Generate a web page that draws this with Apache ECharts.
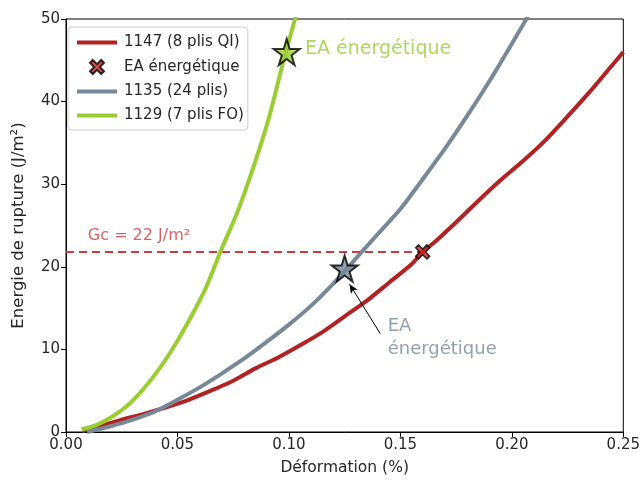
<!DOCTYPE html>
<html><head><meta charset="utf-8">
<script src="https://cdn.jsdelivr.net/npm/echarts@6/dist/echarts.min.js"></script>
<style>html,body{margin:0;padding:0;background:#fff}#c{width:643px;height:481px}</style>
</head><body><div id="c"></div>
<script>
// ---- data ----
const redX = [0.0075,0.015,0.025,0.035,0.045,0.055,0.065,0.075,0.085,0.095,0.105,0.115,0.125,0.135,0.145,0.155,0.16,0.165,0.175,0.185,0.195,0.205,0.215,0.225,0.235,0.245,0.25];
const redY = [0.1,0.7,1.5,2.2,3.0,3.9,5.0,6.2,7.7,9.0,10.5,12.1,14.0,15.9,18.1,20.3,21.8,22.9,25.4,28.0,30.5,32.8,35.3,38.2,41.2,44.4,46.0];
const greyX = [0.0095,0.02,0.03,0.04,0.05,0.06,0.07,0.08,0.09,0.10,0.11,0.12,0.13,0.14,0.15,0.16,0.17,0.18,0.19,0.20,0.21];
const greyY = [0.0,0.7,1.5,2.5,3.9,5.4,7.1,8.9,10.9,13.0,15.3,18.0,21.0,24.0,27.0,30.6,34.3,38.3,42.5,47.0,51.6];
const greenX = [0.007,0.014,0.021,0.028,0.035,0.042,0.049,0.056,0.063,0.070,0.077,0.084,0.091,0.098,0.104];
const greenY = [0.3,0.9,1.9,3.3,5.3,7.7,10.6,13.9,17.6,22.3,26.7,32.0,38.0,45.4,51.2];
const eaRed = [0.160, 21.8];
const eaGrey = [0.125, 19.8];
const eaGreen = [0.099, 46.0];
const gcValue = 21.8;
const seriesNames = ['1147 (8 plis QI)', 'EA énergétique', '1135 (24 plis)', '1129 (7 plis FO)'];
const xTicks = [0, 0.05, 0.10, 0.15, 0.20, 0.25];
const yTicks = [0, 10, 20, 30, 40, 50];
const gcText = 'Gc = 22 J/m²';
const eaText = 'EA énergétique';
const eaTextGrey = 'EA\nénergétique';
const gcTextPos = [0.0098, 23.7];
const greenTextPos = [0.1072, 46.3];
const greyTextPos = [0.1443, 11.4];
const arrowFrom = [0.141, 11.9];
const arrowTo = [0.1272, 17.9];

const zip = (xs, ys) => xs.map((x, i) => [x, ys[i]]);
const FONT = 'DejaVu Sans';
const RED = '#b22222', GREY = '#778899', GREEN = '#9acd32', GCRED = '#cf3a3a';
const starPath = 'path://M50,0 L61,35 L98,35 L68,57 L79,91 L50,70 L21,91 L32,57 L2,35 L39,35 Z';
const xPath = 'path://M20,0 L50,30 L80,0 L100,20 L70,50 L100,80 L80,100 L50,70 L20,100 L0,80 L30,50 L0,20 Z';
const linePath = 'path://M0,0 L40,0 L40,4 L0,4 Z';

const chart = echarts.init(document.getElementById('c'), null, {renderer: 'canvas'});
chart.setOption({
  animation: false,
  backgroundColor: '#fff',
  textStyle: {fontFamily: FONT},
  grid: {left: 66, right: 15, top: 19, bottom: 45, show: true, borderColor: '#000', borderWidth: 1, backgroundColor: 'transparent'},
  xAxis: {
    type: 'value', min: xTicks[0], max: xTicks[xTicks.length-1], interval: 0.05,
    name: 'Déformation (%)', nameLocation: 'middle', nameGap: 28,
    nameTextStyle: {fontSize: 15.5, color: '#262626', fontFamily: FONT},
    axisLine: {show: true, onZero: false, lineStyle: {color: '#000', width: 1}},
    axisTick: {show: true, length: 5, lineStyle: {color: '#000'}},
    axisLabel: {fontSize: 15, color: '#262626', margin: 6, formatter: v => v.toFixed(2), fontFamily: FONT},
    splitLine: {show: false}
  },
  yAxis: {
    type: 'value', min: yTicks[0], max: yTicks[yTicks.length-1], interval: 10,
    name: 'Energie de rupture (J/m²)', nameLocation: 'middle', nameGap: 39,
    nameTextStyle: {fontSize: 16.5, color: '#262626', fontFamily: FONT},
    axisLine: {show: true, onZero: false, lineStyle: {color: '#000', width: 1}},
    axisTick: {show: true, length: 5, lineStyle: {color: '#000'}},
    axisLabel: {fontSize: 15, color: '#262626', margin: 6, fontFamily: FONT},
    splitLine: {show: false}
  },
  legend: {
    orient: 'vertical', left: 68, top: 27,
    data: [
      {name: seriesNames[0], icon: linePath},
      {name: seriesNames[1], icon: xPath},
      {name: seriesNames[2], icon: linePath},
      {name: seriesNames[3], icon: linePath}
    ],
    symbolKeepAspect: true,
    itemWidth: 40, itemHeight: 14, itemGap: 9,
    padding: [8, 4, 7, 9],
    borderColor: '#cccccc', borderWidth: 1, borderRadius: 4, backgroundColor: 'rgba(255,255,255,0.8)',
    textStyle: {fontSize: 15, color: '#262626', fontFamily: FONT, padding: [0, 0, 0, 2]}
  },
  series: [
    {
      name: seriesNames[0], type: 'line', data: zip(redX, redY), showSymbol: false, symbol: 'none', smooth: 0.25,
      lineStyle: {color: RED, width: 4}, itemStyle: {color: RED}, z: 3,
      markLine: {
        silent: true, symbol: ['none', 'none'],
        lineStyle: {color: GCRED, width: 2, type: [8, 5]},
        label: {show: false},
        data: [[{coord: [0, gcValue]}, {coord: [eaRed[0], gcValue]}]]
      }
    },
    {
      name: seriesNames[1], type: 'scatter', data: [eaRed], symbol: xPath, symbolSize: 14,
      itemStyle: {color: '#cc2222', borderColor: '#000', borderWidth: 1.5}, z: 10
    },
    {
      name: seriesNames[2], type: 'line', data: zip(greyX, greyY), showSymbol: false, symbol: 'none', smooth: 0.25,
      lineStyle: {color: GREY, width: 4}, itemStyle: {color: GREY}, z: 4,
      markLine: {
        silent: true, symbol: ['none', 'arrow'], symbolSize: [6, 9],
        lineStyle: {color: '#000', width: 1, type: 'solid'},
        label: {show: false},
        data: [[{coord: arrowFrom}, {coord: arrowTo}]]
      }
    },
    {
      name: seriesNames[3], type: 'line', data: zip(greenX, greenY), showSymbol: false, symbol: 'none', smooth: 0.25,
      lineStyle: {color: GREEN, width: 4}, itemStyle: {color: GREEN}, z: 5
    },
    {
      name: 'starGrey', type: 'scatter', data: [eaGrey], symbol: starPath, symbolSize: 26,
      itemStyle: {color: GREY, borderColor: '#000', borderWidth: 2}, z: 10
    },
    {
      name: 'starGreen', type: 'scatter', data: [eaGreen], symbol: starPath, symbolSize: 26,
      itemStyle: {color: GREEN, borderColor: '#000', borderWidth: 2}, z: 10
    },
    {
      name: 'labels', type: 'scatter', symbolSize: 0, silent: true, z: 11,
      data: [
        {value: gcTextPos, label: {formatter: gcText, color: GCRED, fontSize: 16}},
        {value: greenTextPos, label: {formatter: eaText, color: GREEN, fontSize: 19}},
        {value: greyTextPos, label: {formatter: eaTextGrey, color: GREY, fontSize: 18, lineHeight: 23}}
      ],
      label: {show: true, position: 'right', distance: 0, align: 'left', fontFamily: FONT}
    }
  ]
});
</script></body></html>
